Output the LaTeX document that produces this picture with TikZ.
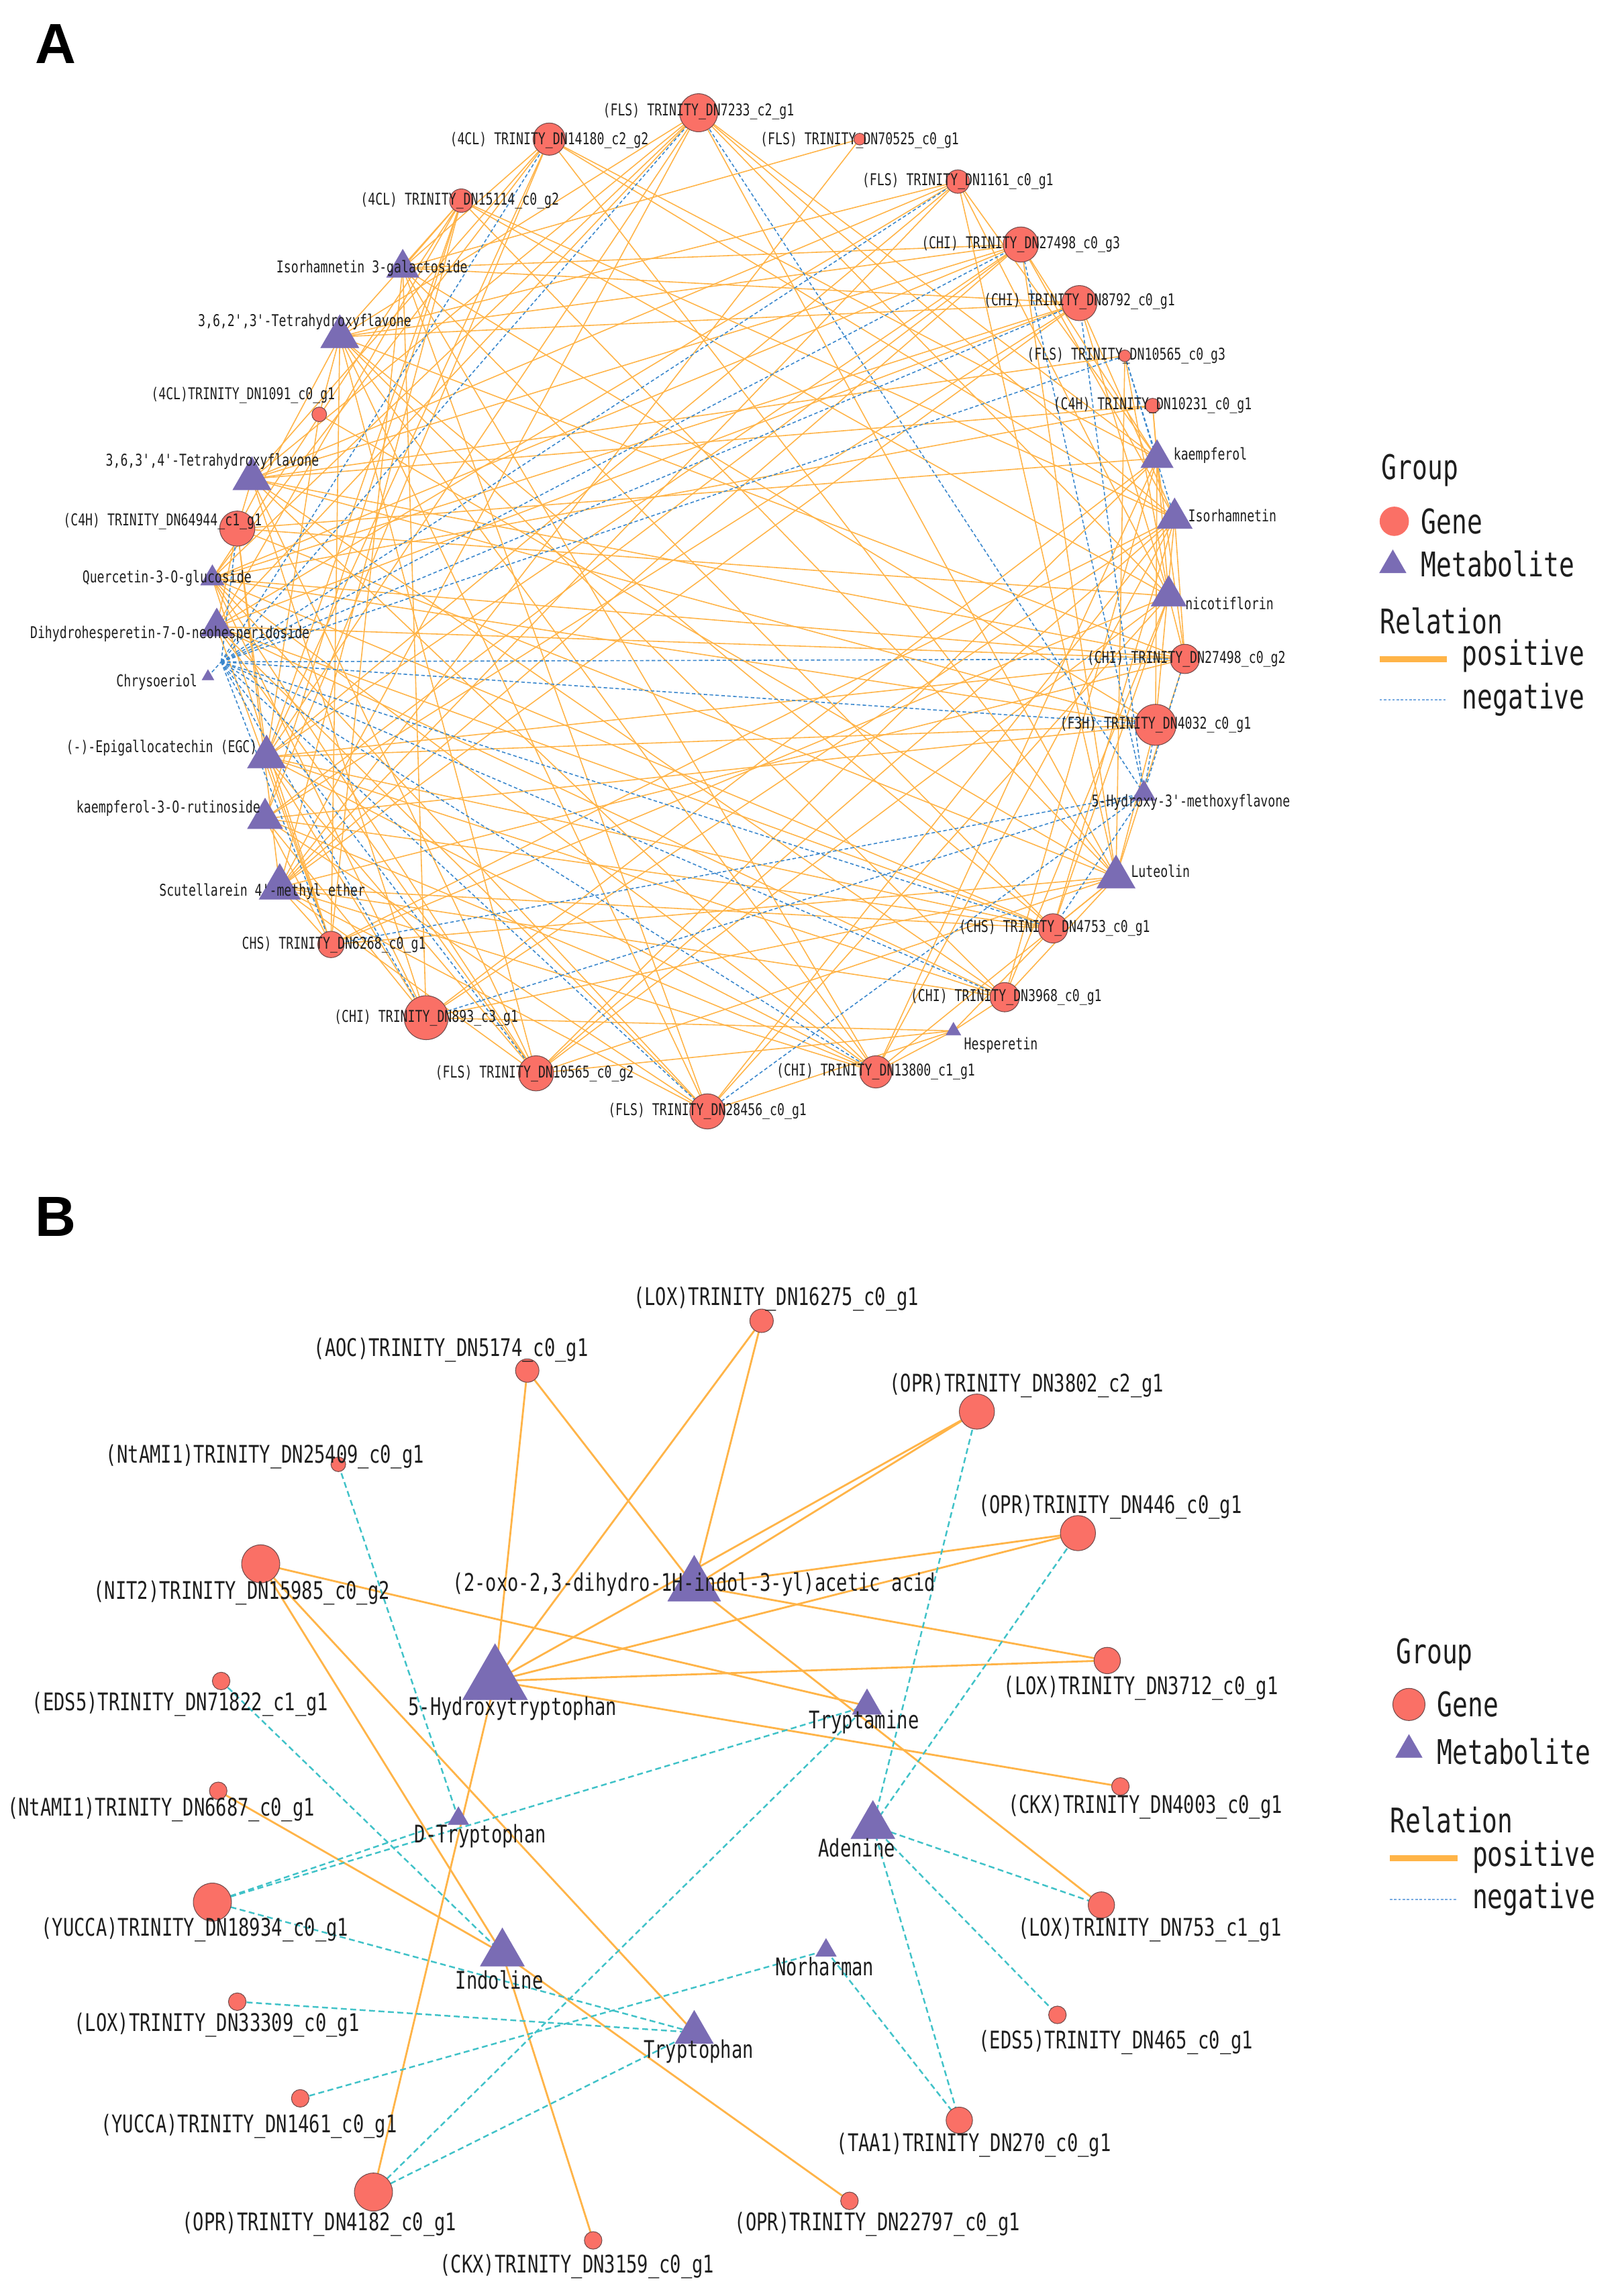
\documentclass[tikz,border=0pt]{standalone}
\usepackage{fontspec}
\usetikzlibrary{shapes.geometric}
\newfontfamily\labfont[FakeStretch=0.75]{DejaVu Sans Mono}
\newfontfamily\letfont{Liberation Sans}
\newcommand\trn{TRINITY\_DN}
\definecolor{genefill}{RGB}{250,112,102}
\definecolor{geneedge}{RGB}{115,75,75}
\definecolor{metfill}{RGB}{122,108,180}
\definecolor{posc}{RGB}{255,180,72}
\definecolor{negAc}{RGB}{58,135,205}
\definecolor{negBc}{RGB}{64,194,200}
\definecolor{legneg}{RGB}{120,170,225}
\definecolor{txt}{RGB}{30,30,30}
\pgfdeclarelayer{bg}
\pgfdeclarelayer{edges}
\pgfsetlayers{bg,edges,main}
\begin{document}
\begin{tikzpicture}[x=0.0218264cm, y=-0.0218264cm,
  gene/.style={circle, fill=genefill, draw=geneedge, line width=0.3pt, inner sep=0pt, minimum size=#1*0.621pt},
  met/.style={regular polygon, regular polygon sides=3, fill=metfill, draw=metfill, line width=0.2pt, inner sep=0pt, minimum size=#1*0.717pt},
  labA/.style={font=\labfont\fontsize{6.9}{8}\selectfont, inner sep=0pt, text=txt},
  labB/.style={font=\labfont\fontsize{10.3}{11}\selectfont, inner sep=0pt, text=txt},
  legt/.style={font=\labfont\fontsize{14.4}{16}\selectfont, inner sep=0pt, text=txt, anchor=west},
  posA/.style={draw=posc, line width=0.45pt},
  negA/.style={draw=negAc, line width=0.45pt, dash pattern=on 1.5pt off 1pt},
  posB/.style={draw=posc, line width=0.8pt},
  negB/.style={draw=negBc, line width=0.7pt, dash pattern=on 2.5pt off 1.5pt}]
\begin{pgfonlayer}{bg}
\fill[white] (0,0) rectangle (1106,1568);
\end{pgfonlayer}
\useasboundingbox (0,0) rectangle (1106,1568);

% panel letters
\node[font=\letfont\bfseries\fontsize{24}{26}\selectfont] (letA) at (38,30) {A};
\node[font=\letfont\bfseries\fontsize{24}{26}\selectfont] (letB) at (38,831) {B};

% ================= Panel A nodes =================
\node[gene=26] (a7233)   at (477,77) {};
\node[gene=22] (a14180)  at (375,95) {};
\node[gene=8]  (a70525)  at (587,95) {};
\node[gene=16] (a15114)  at (315,137) {};
\node[gene=16] (a1161)   at (654,124) {};
\node[gene=24] (a27498c) at (697,167) {};
\node[gene=24] (a8792)   at (737,207) {};
\node[gene=8]  (a10565c) at (768,243) {};
\node[gene=10] (a10231)  at (787,277) {};
\node[gene=20] (a27498b) at (809,450) {};
\node[gene=28] (a4032)   at (789,495) {};
\node[gene=20] (a4753)   at (719,634) {};
\node[gene=20] (a3968)   at (686,681) {};
\node[gene=22] (a13800)  at (598,732) {};
\node[gene=24] (a28456)  at (483,759) {};
\node[gene=24] (a10565b) at (366,733) {};
\node[gene=30] (a893)    at (291,695) {};
\node[gene=18] (a6268)   at (226,645) {};
\node[gene=24] (a64944)  at (162,361) {};
\node[gene=10] (a1091)   at (218,283) {};

\node[met=22] (mIso3g) at (275,183) {};
\node[met=26] (mTHF2)  at (232,230) {};
\node[met=26] (mTHF1)  at (172,327) {};
\node[met=16] (mQue)   at (145,395) {};
\node[met=22] (mDih)   at (148,428) {};
\node[met=8]  (mChr)   at (142,462) {};
\coordinate (chub) at (151,452);
\node[met=26] (mEGC)   at (182,517) {};
\node[met=24] (mK3r)   at (181,559) {};
\node[met=28] (mScu)   at (191,606) {};
\node[met=22] (mKae)   at (790,313) {};
\node[met=24] (mIso)   at (802,354) {};
\node[met=24] (mNic)   at (798,407) {};
\node[met=16] (m5H)    at (781,542) {};
\node[met=26] (mLut)   at (762,599) {};
\node[met=10] (mHes)   at (651,704) {};

% Panel A labels
\node[labA] (tA1)  at (477,76)  {(FLS) \trn 7233\_c2\_g1};
\node[labA] (tA2)  at (375,96)  {(4CL) \trn 14180\_c2\_g2};
\node[labA] (tA3)  at (587,96)  {(FLS) \trn 70525\_c0\_g1};
\node[labA] (tA4)  at (314,137) {(4CL) \trn 15114\_c0\_g2};
\node[labA] (tA5)  at (654,124) {(FLS) \trn 1161\_c0\_g1};
\node[labA] (tA6)  at (697,167) {(CHI) \trn 27498\_c0\_g3};
\node[labA] (tA7)  at (737,206) {(CHI) \trn 8792\_c0\_g1};
\node[labA] (tA8)  at (769,243) {(FLS) \trn 10565\_c0\_g3};
\node[labA] (tA9)  at (787,277) {(C4H) \trn 10231\_c0\_g1};
\node[labA, anchor=west] (tA10) at (801,311) {kaempferol};
\node[labA, anchor=west] (tA11) at (811,352) {Isorhamnetin};
\node[labA, anchor=west] (tA12) at (809,412) {nicotiflorin};
\node[labA] (tA13) at (810,450) {(CHI) \trn 27498\_c0\_g2};
\node[labA] (tA14) at (789,495) {(F3H) \trn 4032\_c0\_g1};
\node[labA, anchor=west] (tA15) at (745,548) {5-Hydroxy-3'-methoxyflavone};
\node[labA, anchor=west] (tA16) at (772,595) {Luteolin};
\node[labA] (tA17) at (720,634) {(CHS) \trn 4753\_c0\_g1};
\node[labA] (tA18) at (687,681) {(CHI) \trn 3968\_c0\_g1};
\node[labA, anchor=west] (tA19) at (658,714) {Hesperetin};
\node[labA] (tA20) at (598,732) {(CHI) \trn 13800\_c1\_g1};
\node[labA] (tA21) at (483,759) {(FLS) \trn 28456\_c0\_g1};
\node[labA] (tA22) at (365,733) {(FLS) \trn 10565\_c0\_g2};
\node[labA] (tA23) at (291,695) {(CHI) \trn 893\_c3\_g1};
\node[labA] (tA24) at (228,645) {CHS) \trn 6268\_c0\_g1};
\node[labA] (tA25) at (179,609) {Scutellarein 4'-methyl ether};
\node[labA, anchor=east] (tA26) at (178,552) {kaempferol-3-O-rutinoside};
\node[labA, anchor=east] (tA27) at (176,511) {(-)-Epigallocatechin (EGC)};
\node[labA, anchor=east] (tA28) at (135,466) {Chrysoeriol};
\node[labA] (tA29) at (116,433) {Dihydrohesperetin-7-O-neohesperidoside};
\node[labA] (tA30) at (114,395) {Quercetin-3-O-glucoside};
\node[labA] (tA31) at (111,356) {(C4H) \trn 64944\_c1\_g1};
\node[labA] (tA32) at (145,315) {3,6,3',4'-Tetrahydroxyflavone};
\node[labA] (tA33) at (166,270) {(4CL)\trn 1091\_c0\_g1};
\node[labA] (tA34) at (208,220) {3,6,2',3'-Tetrahydroxyflavone};
\node[labA] (tA35) at (254,183) {Isorhamnetin 3-galactoside};

% ================= Panel A edges =================
\begin{pgfonlayer}{edges}
\foreach \g [count=\i] in {a7233,a14180,a15114,a1161,a27498c,a8792,a27498b,a4032,a4753,a3968,a13800,a28456,a10565b,a893,a6268,a64944}{
  \foreach \m [count=\j] in {mIso3g,mTHF2,mTHF1,mQue,mDih,mEGC,mK3r,mScu,mKae,mIso,mNic,mLut}{
    \pgfmathtruncatemacro\kk{mod(3*\i*\j+\i+2*\j,6)}
    \ifnum\kk>0 \draw[posA] (\g.center) -- (\m.center); \fi
  }
}
\foreach \g in {a13800,a3968,a4753,a893,a28456,a10565b} \draw[posA] (mHes.center) -- (\g.center);
\foreach \m in {mIso3g,mScu} \draw[posA] (a70525.center) -- (\m.center);
\foreach \m in {mKae,mNic,mTHF1,mQue} \draw[posA] (a10231.center) -- (\m.center);
\foreach \m in {mTHF2,mEGC,mLut} \draw[posA] (a1091.center) -- (\m.center);
\foreach \m in {mNic,mLut,mTHF1} \draw[posA] (a10565c.center) -- (\m.center);
% negative
\draw[negA] (mChr.center) -- (chub);
\foreach \g in {a7233,a14180,a1161,a27498c,a8792,a10565c,a27498b,a4032,a4753,a3968,a13800,a28456,a10565b,a893,a6268,a64944}
  \draw[negA] (chub) -- (\g.center);
\foreach \g in {a7233,a27498c,a8792,a27498b,a4032,a4753,a6268,a893,a28456}
  \draw[negA] (m5H.center) -- (\g.center);
\draw[negA] (a10565c.center) -- (mKae.center);
\draw[negA] (a10565c.center) -- (mIso.center);
\end{pgfonlayer}

% ================= Legend A =================
\node[legt] (lgA1) at (943,321) {Group};
\node[gene=20, draw=none] (lgA2) at (952,356) {};
\node[legt] (lgA3) at (970,356) {Gene};
\node[met=18] (lgA4) at (951,386) {};
\node[legt] (lgA5) at (970,385) {Metabolite};
\node[legt] (lgA6) at (942,424) {Relation};
\coordinate (lgA7a) at (942,450); \coordinate (lgA7b) at (988,450);
\draw[posc, line width=2.6pt] (lgA7a) -- (lgA7b);
\node[legt] (lgA8) at (998,448) {positive};
\coordinate (lgA9a) at (942,478); \coordinate (lgA9b) at (988,478);
\draw[legneg, line width=0.6pt, dash pattern=on 1pt off 0.8pt] (lgA9a) -- (lgA9b);
\node[legt] (lgA10) at (998,478) {negative};

% ================= Panel B nodes =================
\node[gene=16] (b16275) at (520,902) {};
\node[gene=16] (b5174)  at (360,936) {};
\node[gene=24] (b3802)  at (667,964) {};
\node[gene=10] (b25409) at (231,1000) {};
\node[gene=24] (b446)   at (736,1047) {};
\node[gene=26] (b15985) at (178,1068) {};
\node[gene=18] (b3712)  at (756,1134) {};
\node[gene=12] (b71822) at (151,1148) {};
\node[gene=12] (b4003)  at (765,1220) {};
\node[gene=12] (b6687)  at (149,1223) {};
\node[gene=26] (b18934) at (145,1299) {};
\node[gene=18] (b753)   at (752,1301) {};
\node[gene=12] (b33309) at (162,1367) {};
\node[gene=12] (b465)   at (722,1376) {};
\node[gene=12] (b1461)  at (205,1433) {};
\node[gene=18] (b270)   at (655,1448) {};
\node[gene=26] (b4182)  at (255,1497) {};
\node[gene=12] (b22797) at (580,1503) {};
\node[gene=12] (b3159)  at (405,1530) {};

\node[met=36] (nOxo)  at (474,1083) {};
\node[met=44] (n5HT)  at (338,1148) {};
\node[met=20] (nTam)  at (592,1165) {};
\node[met=14] (nDTr)  at (313,1242) {};
\node[met=30] (nAde)  at (596,1247) {};
\node[met=30] (nInd)  at (343,1334) {};
\node[met=14] (nNor)  at (564,1332) {};
\node[met=26] (nTrp)  at (474,1388) {};

% Panel B labels
\node[labB] (tB1)  at (530,887)  {(LOX)\trn 16275\_c0\_g1};
\node[labB] (tB2)  at (308,922)  {(AOC)\trn 5174\_c0\_g1};
\node[labB] (tB3)  at (701,946)  {(OPR)\trn 3802\_c2\_g1};
\node[labB] (tB4)  at (181,995)  {(NtAMI1)\trn 25409\_c0\_g1};
\node[labB] (tB5)  at (758,1029) {(OPR)\trn 446\_c0\_g1};
\node[labB] (tB6)  at (165,1088) {(NIT2)\trn 15985\_c0\_g2};
\node[labB] (tB7)  at (474,1082) {(2-oxo-2,3-dihydro-1H-indol-3-yl)acetic acid};
\node[labB] (tB8)  at (350,1167) {5-Hydroxytryptophan};
\node[labB] (tB9)  at (779,1153) {(LOX)\trn 3712\_c0\_g1};
\node[labB] (tB10) at (123,1164) {(EDS5)\trn 71822\_c1\_g1};
\node[labB] (tB11) at (590,1176) {Tryptamine};
\node[labB] (tB12) at (782,1234) {(CKX)\trn 4003\_c0\_g1};
\node[labB] (tB13) at (110,1236) {(NtAMI1)\trn 6687\_c0\_g1};
\node[labB] (tB14) at (328,1254) {D-Tryptophan};
\node[labB] (tB15) at (585,1262) {Adenine};
\node[labB] (tB16) at (133,1318) {(YUCCA)\trn 18934\_c0\_g1};
\node[labB] (tB17) at (785,1318) {(LOX)\trn 753\_c1\_g1};
\node[labB] (tB18) at (341,1352) {Indoline};
\node[labB] (tB19) at (563,1343) {Norharman};
\node[labB] (tB20) at (148,1383) {(LOX)\trn 33309\_c0\_g1};
\node[labB] (tB21) at (762,1395) {(EDS5)\trn 465\_c0\_g1};
\node[labB] (tB22) at (477,1401) {Tryptophan};
\node[labB] (tB23) at (170,1452) {(YUCCA)\trn 1461\_c0\_g1};
\node[labB] (tB24) at (665,1465) {(TAA1)\trn 270\_c0\_g1};
\node[labB] (tB25) at (218,1519) {(OPR)\trn 4182\_c0\_g1};
\node[labB] (tB26) at (599,1519) {(OPR)\trn 22797\_c0\_g1};
\node[labB] (tB27) at (394,1548) {(CKX)\trn 3159\_c0\_g1};

% ================= Panel B edges =================
\begin{pgfonlayer}{edges}
\foreach \a/\b in {b16275/nOxo, b16275/n5HT, b5174/nOxo, b5174/n5HT, b3802/nOxo, b3802/n5HT,
  b446/nOxo, b446/n5HT, nOxo/b3712, n5HT/b3712, n5HT/b4003, nOxo/b753, b15985/nTam,
  b15985/nInd, b15985/nTrp, b6687/nInd, n5HT/b4182, nInd/b3159, nInd/b22797}
  \draw[posB] (\a.center) -- (\b.center);
\foreach \a/\b in {b25409/nDTr, b71822/nInd, b18934/nDTr, b18934/nTam, b18934/nTrp,
  b33309/nTrp, b1461/nNor, b4182/nTam, b4182/nTrp, b3802/nAde, b446/nAde, nAde/b753,
  nAde/b465, nAde/b270, nNor/b270}
  \draw[negB] (\a.center) -- (\b.center);
\end{pgfonlayer}

% ================= Legend B =================
\node[legt] (lgB1) at (953,1130) {Group};
\node[gene=22] (lgB2) at (962,1164) {};
\node[legt] (lgB3) at (981,1164) {Gene};
\node[met=18] (lgB4) at (962,1195) {};
\node[legt] (lgB5) at (981,1196) {Metabolite};
\node[legt] (lgB6) at (949,1243) {Relation};
\coordinate (lgB7a) at (949,1269); \coordinate (lgB7b) at (995,1269);
\draw[posc, line width=2.6pt] (lgB7a) -- (lgB7b);
\node[legt] (lgB8) at (1005,1268) {positive};
\coordinate (lgB9a) at (949,1297); \coordinate (lgB9b) at (995,1297);
\draw[legneg, line width=0.6pt, dash pattern=on 1pt off 0.8pt] (lgB9a) -- (lgB9b);
\node[legt] (lgB10) at (1005,1297) {negative};
\end{tikzpicture}
\end{document}
